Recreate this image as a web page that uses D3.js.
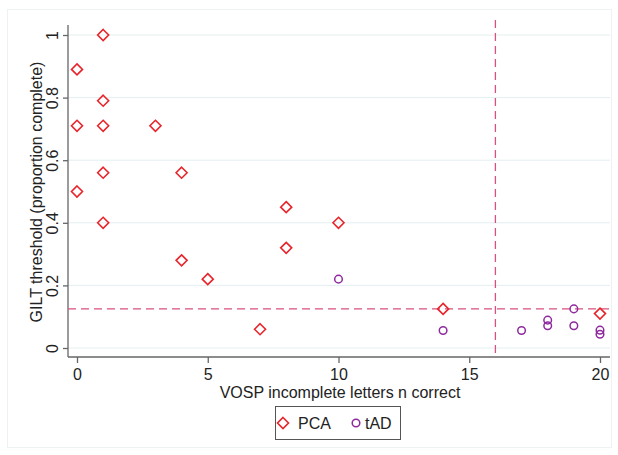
<!DOCTYPE html>
<html>
<head>
<meta charset="utf-8">
<script src="https://cdn.jsdelivr.net/npm/d3@7/dist/d3.min.js"></script>
<style>
  body { margin: 0; background: #fff; }
  text { font-family: "Liberation Sans", Arial, sans-serif; fill: #222; }
</style>
</head>
<body>
<svg id="plotCanvas" width="618" height="455"></svg>
<script>
// values
var pcaX = [0, 0, 0, 1, 1, 1, 1, 1, 3, 4, 4, 5, 7, 8, 8, 10, 14, 20];
var pcaY = [0.89, 0.71, 0.50, 1.0, 0.79, 0.71, 0.56, 0.40, 0.71, 0.56, 0.28, 0.22, 0.06, 0.45, 0.32, 0.40, 0.125, 0.11];
var tadX = [10, 14, 17, 18, 18, 19, 19, 20, 20];
var tadY = [0.22, 0.056, 0.056, 0.089, 0.071, 0.125, 0.071, 0.057, 0.044];
var xTicks = [0, 5, 10, 15, 20];
var yTicks = [0, 0.2, 0.4, 0.6, 0.8, 1];
var cutX = 16;
var cutY = 0.125;

var canvas = d3.select("#plotCanvas");
var plotLeft = 68, plotRight = 610, plotTop = 25, plotBottom = 357;

var x = d3.scaleLinear().domain([0, 20]).range([77, 600]);
var y = d3.scaleLinear().domain([0, 1]).range([348, 35]);

var red = "#e8242b";
var purple = "#8e2a9e";
var dashCol = "#d9517e";

// faint outer frame
canvas.append("rect")
    .attr("x", 7.5).attr("y", 9.5)
    .attr("width", 604).attr("height", 438)
    .attr("fill", "none")
    .attr("stroke", "#edf2f3")
    .attr("stroke-width", 1);

// gridlines
canvas.append("g").selectAll("line")
    .data(yTicks)
    .enter().append("line")
    .attr("x1", plotLeft).attr("x2", plotRight)
    .attr("y1", d => y(d)).attr("y2", d => y(d))
    .attr("stroke", "#e4eef0")
    .attr("stroke-width", 1);

// axes
var yAxis = d3.axisLeft(y).tickValues(yTicks).tickSize(5).tickPadding(6)
    .tickFormat(d => d3.format("~g")(d));
var gy = canvas.append("g")
    .attr("transform", "translate(" + plotLeft + ",0)")
    .call(yAxis);
gy.select(".domain").attr("d", "M0," + plotTop + "V" + plotBottom);
gy.selectAll(".tick text")
    .attr("transform", "translate(-16,0) rotate(-90)")
    .attr("x", 0).attr("y", 0)
    .attr("dy", "0.35em")
    .attr("text-anchor", "middle")
    .style("font-size", "16px");

var xAxis = d3.axisBottom(x).tickValues(xTicks).tickSize(6).tickPadding(6);
var gx = canvas.append("g")
    .attr("transform", "translate(0," + plotBottom + ")")
    .call(xAxis);
gx.select(".domain").attr("d", "M" + plotLeft + ",0H" + plotRight);
gx.selectAll(".tick text").style("font-size", "16px");

canvas.selectAll(".domain, .tick line").attr("stroke", "#666").attr("stroke-width", 1.3);

// axis titles
canvas.append("text")
    .attr("x", 340).attr("y", 398)
    .attr("text-anchor", "middle")
    .attr("font-size", "16px")
    .text("VOSP incomplete letters n correct");

canvas.append("text")
    .attr("transform", "translate(42,192) rotate(-90)")
    .attr("text-anchor", "middle")
    .attr("font-size", "16px")
    .text("GILT threshold (proportion complete)");

// reference lines
canvas.append("line")
    .attr("x1", plotLeft).attr("x2", plotRight)
    .attr("y1", y(cutY)).attr("y2", y(cutY))
    .attr("stroke", dashCol).attr("stroke-width", 1.3)
    .attr("stroke-dasharray", "8,5");
canvas.append("line")
    .attr("x1", x(cutX)).attr("x2", x(cutX))
    .attr("y1", plotTop - 5).attr("y2", plotBottom)
    .attr("stroke", dashCol).attr("stroke-width", 1.3)
    .attr("stroke-dasharray", "8,5");

// points
var diamond = "M0,-5.5L5.5,0L0,5.5L-5.5,0Z";
canvas.append("g").selectAll("path")
    .data(pcaX)
    .enter().append("path")
    .attr("d", diamond)
    .attr("transform", (d, i) => "translate(" + x(d) + "," + y(pcaY[i]) + ")")
    .attr("fill", "none")
    .attr("stroke", red)
    .attr("stroke-width", 1.6);

canvas.append("g").selectAll("circle")
    .data(tadX)
    .enter().append("circle")
    .attr("cx", d => x(d))
    .attr("cy", (d, i) => y(tadY[i]))
    .attr("r", 3.8)
    .attr("fill", "none")
    .attr("stroke", purple)
    .attr("stroke-width", 1.5);

// legend
var lg = canvas.append("g");
lg.append("rect")
    .attr("x", 275.5).attr("y", 406.5)
    .attr("width", 125).attr("height", 33)
    .attr("fill", "#fff")
    .attr("stroke", "#555")
    .attr("stroke-width", 1);
lg.append("path")
    .attr("d", diamond)
    .attr("transform", "translate(283,423)")
    .attr("fill", "none").attr("stroke", red).attr("stroke-width", 1.6);
lg.append("text")
    .attr("x", 298).attr("y", 429)
    .attr("font-size", "16px")
    .text("PCA");
lg.append("circle")
    .attr("cx", 356).attr("cy", 423).attr("r", 3.8)
    .attr("fill", "none").attr("stroke", purple).attr("stroke-width", 1.5);
lg.append("text")
    .attr("x", 365).attr("y", 429)
    .attr("font-size", "16px")
    .text("tAD");
</script>
</body>
</html>
